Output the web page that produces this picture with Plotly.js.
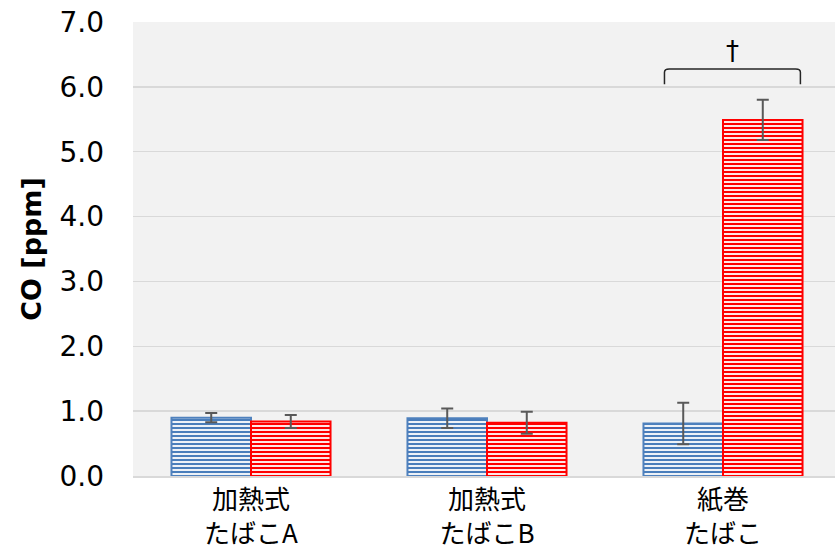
<!DOCTYPE html>
<html>
<head>
<meta charset="utf-8">
<script src="https://cdn.plot.ly/plotly-3.0.1.min.js"></script>
<style>
html,body{margin:0;padding:0;overflow:hidden;background:#fff;}
#chart{width:845px;height:552px;}
</style>
</head>
<body>
<div id="chart"></div>
<script>
// Data
const categories = ['加熱式<br>たばこA', '加熱式<br>たばこB', '紙巻<br>たばこ'];
const seriesBlue = [0.90, 0.89, 0.81];
const errBlue = [0.07, 0.15, 0.32];
const seriesRed = [0.84, 0.82, 5.49];
const errRed = [0.10, 0.17, 0.31];
const yTicks = [0, 1, 2, 3, 4, 5, 6, 7];
const yTickText = ['0.0', '1.0', '2.0', '3.0', '4.0', '5.0', '6.0', '7.0'];
// significance bracket (category-axis units / data units)
const bracketX = [1.752, 2.328];
const bracketY = [6.04, 6.275];
const markText = '†';
const markPos = [2.039, 6.55];

const errStyle = {type: 'data', visible: true, color: '#595959', thickness: 2, width: 6};

const traces = [
  {
    type: 'bar', x: categories, y: seriesBlue, name: 'A',
    error_y: Object.assign({array: errBlue}, errStyle),
    marker: {
      color: '#ffffff',
      line: {color: '#4f81bd', width: 2},
      pattern: {shape: '-', fgcolor: '#4a7ebb', bgcolor: '#ffffff', size: 4, solidity: 0.55, fillmode: 'replace'}
    },
    hoverinfo: 'skip'
  },
  {
    type: 'bar', x: categories, y: seriesRed, name: 'B',
    error_y: Object.assign({array: errRed}, errStyle),
    marker: {
      color: '#ffffff',
      line: {color: '#ff0000', width: 2},
      pattern: {shape: '-', fgcolor: '#ff0000', bgcolor: '#ffffff', size: 4, solidity: 0.55, fillmode: 'replace'}
    },
    hoverinfo: 'skip'
  }
];

const bx0 = bracketX[0], bx1 = bracketX[1], by0 = bracketY[0], by1 = bracketY[1];
const dx = 0.02, dy = 0.05;
const bracketPath = `M ${bx0} ${by0} L ${bx0} ${by1 - dy} Q ${bx0} ${by1} ${bx0 + dx} ${by1} L ${bx1 - dx} ${by1} Q ${bx1} ${by1} ${bx1} ${by1 - dy} L ${bx1} ${by0}`;

const layout = {
  width: 845, height: 552,
  margin: {l: 133, r: 4, t: 22, b: 76},
  paper_bgcolor: '#ffffff',
  plot_bgcolor: '#f2f2f2',
  barmode: 'group',
  bargap: 0.326,
  bargroupgap: 0,
  showlegend: false,
  font: {family: 'DejaVu Sans, Verdana, sans-serif', color: '#000000'},
  xaxis: {
    type: 'category',
    range: [-0.5, 2.5],
    showgrid: false,
    showline: true, linecolor: '#d9d9d9', linewidth: 2,
    ticks: '',
    tickfont: {family: 'Noto Sans CJK JP, sans-serif', size: 26, color: '#000000'},
    fixedrange: true
  },
  yaxis: {
    range: [0, 7],
    tickvals: yTicks, ticktext: yTickText,
    showgrid: true, gridcolor: '#d9d9d9', gridwidth: 1.5,
    zeroline: false, showline: false,
    ticks: '',
    ticklabelstandoff: 28,
    tickfont: {family: 'DejaVu Sans, Verdana, sans-serif', size: 28, color: '#000000'},
    title: {text: 'CO [ppm]', font: {family: 'DejaVu Sans, Verdana, sans-serif', size: 27, color: '#000000', weight: 'bold'}, standoff: 10},
    fixedrange: true
  },
  shapes: [
    {type: 'path', xref: 'x', yref: 'y', path: bracketPath, line: {color: '#262626', width: 1.5}}
  ],
  annotations: [
    {x: markPos[0], y: markPos[1], xref: 'x', yref: 'y', text: markText, showarrow: false,
     font: {family: 'DejaVu Sans, sans-serif', size: 26, color: '#000000'}}
  ]
};

Plotly.newPlot('chart', traces, layout, {staticPlot: true, displayModeBar: false});
</script>
</body>
</html>
